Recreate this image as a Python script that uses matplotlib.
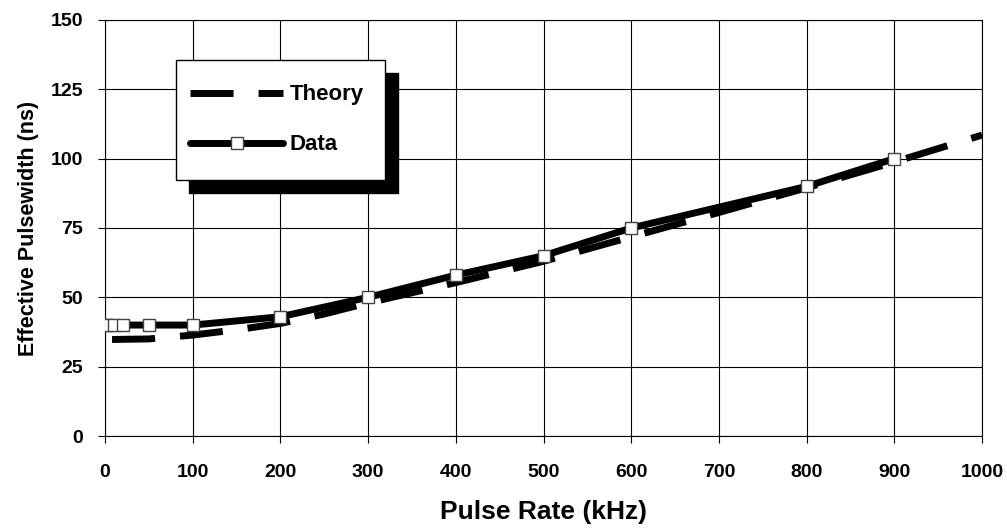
import matplotlib
matplotlib.use("Agg")
import matplotlib.pyplot as plt
from matplotlib.patches import Rectangle

plt.rcParams['font.family'] = ['Liberation Sans', 'DejaVu Sans']
plt.rcParams['font.weight'] = 'bold'

# theory curve
theory_x = [8, 50, 100, 150, 200, 250, 300, 400, 500, 600, 700, 800, 900, 1000]
theory_y = [34.8, 35.0, 36.4, 38.3, 40.6, 44.0, 48.0, 55.3, 63.0, 71.8, 80.6, 89.5, 98.8, 108.5]

# measured data
data_x = [1, 5, 10, 20, 50, 100, 200, 300, 400, 500, 600, 800, 900]
data_y = [40, 40, 40, 40, 40, 40, 43, 50, 58, 65, 75, 90, 100]

x_ticks = [0, 100, 200, 300, 400, 500, 600, 700, 800, 900, 1000]
y_ticks = [0, 25, 50, 75, 100, 125, 150]

fig = plt.figure(figsize=(10.07, 5.29), dpi=100)
ax = fig.add_axes([0.1043, 0.1758, 0.8709, 0.7864])

ax.plot(theory_x, theory_y, color='black', lw=5, dashes=(6.2, 3.6),
        solid_capstyle='butt', dash_capstyle='butt', label='Theory', zorder=3)
ax.plot(data_x, data_y, color='black', lw=5, solid_capstyle='round',
        marker='s', markersize=9, markerfacecolor='white',
        markeredgecolor='#444444', markeredgewidth=1, label='Data', zorder=4)

ax.set_xlim(0, 1000)
ax.set_ylim(0, 150)
ax.set_xticks(x_ticks)
ax.set_yticks(y_ticks)
ax.grid(True, color='black', lw=0.8)
ax.set_axisbelow(True)
for s in ax.spines.values():
    s.set_color('black')
    s.set_linewidth(0.8)
ax.tick_params(axis='y', direction='out', length=5, width=0.8, pad=11, labelsize=14)
ax.tick_params(axis='x', direction='out', length=5, width=0.8, pad=15, labelsize=14)

ax.set_xlabel('Pulse Rate (kHz)', fontsize=19, fontweight='bold', labelpad=14)
ax.set_ylabel('Effective Pulsewidth (ns)', fontsize=15.5, fontweight='bold', labelpad=8)

# legend box with a hard black shadow
ax.add_patch(Rectangle((0.0958, 0.584), 0.238, 0.289, transform=ax.transAxes,
                       facecolor='black', edgecolor='black', zorder=5))
ax.add_patch(Rectangle((0.081, 0.615), 0.238, 0.289, transform=ax.transAxes,
                       facecolor='white', edgecolor='black', lw=1.0, zorder=6))
leg = ax.legend(loc='center', bbox_to_anchor=(0.196, 0.76), frameon=False,
                borderpad=0, handlelength=4.2, handletextpad=0.3,
                labelspacing=1.3, prop={'size': 16, 'weight': 'bold'})
leg.set_zorder(7)

fig.savefig('out.png', dpi=100)
